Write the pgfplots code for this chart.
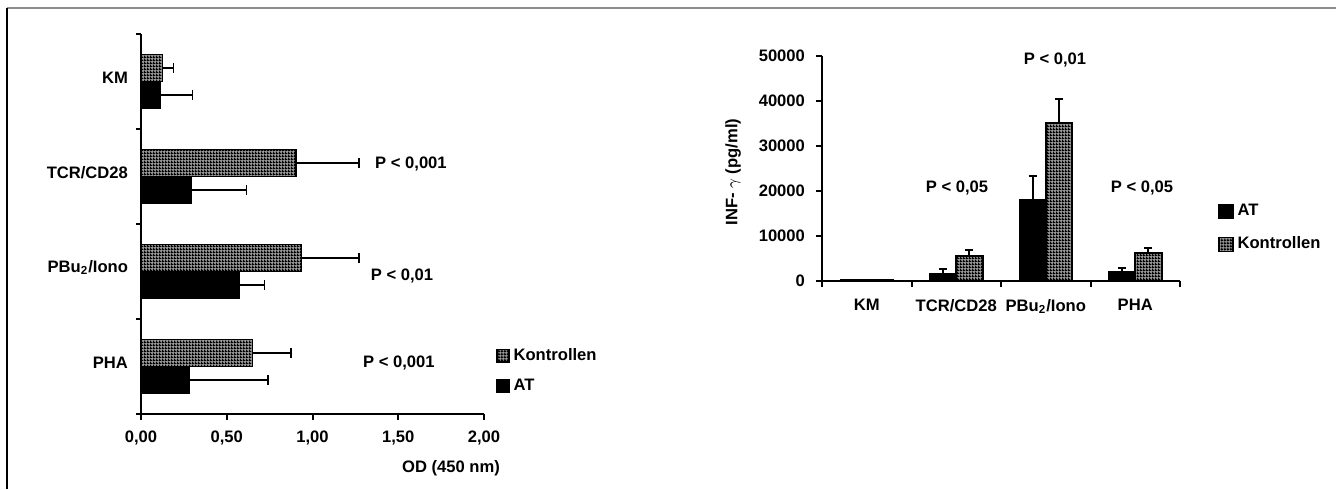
\documentclass[border=0pt]{standalone}
\usepackage{fontspec}
\setmainfont{Liberation Sans}
\usepackage{pgfplots}
\pgfplotsset{compat=1.18}
\usetikzlibrary{patterns.meta}
\tikzdeclarepattern{name=checker, type=uncolored,
  bounding box={(0,0) and (1.5pt,1.5pt)}, tile size={(1.5pt,1.5pt)},
  code={\fill (0,0) rectangle (1.5pt,0.8pt); \fill (0,0.8pt) rectangle (0.8pt,1.5pt);}}
\newcommand\ff{\bfseries\fontsize{8.3}{10}\selectfont}
\pgfplotsset{
  konbar/.style={draw=black, line width=0.8pt, fill=black!40, postaction={pattern=checker, pattern color=black}},
  atbar/.style={draw=black, line width=0.8pt, fill=black},
  xerr/.style={forget plot, draw=none, mark=none,
    error bars/.cd, x dir=plus, x explicit, error mark=|,
    error bar style={draw=black, line width=0.9pt, solid},
    error mark options={draw=black, line width=0.9pt, mark size=2.6pt, solid}},
  yerr/.style={forget plot, draw=none, mark=none,
    error bars/.cd, y dir=plus, y explicit, error mark=|,
    error bar style={draw=black, line width=1pt, solid},
    error mark options={draw=black, line width=1pt, mark size=2pt, solid}},
}
\begin{document}
\begin{tikzpicture}
\useasboundingbox (0,0) rectangle (668pt,244.5pt);
\draw[black!45, line width=0.8pt] (3.5pt,240.5pt) -- (668pt,240.5pt);
\draw[black, line width=0.8pt] (3.5pt,240.5pt) -- (3.5pt,0pt);
% ---------------- left chart
\begin{axis}[
  at={(70.5pt,37.5pt)}, anchor=south west, scale only axis,
  width=171.5pt, height=190pt, clip=false,
  xmin=0, xmax=2, ymin=0, ymax=4,
  axis lines=left, axis line style={-, line width=1pt},
  tick style={line width=1pt, black},
  tick align=outside, major tick length=3pt, minor tick length=2.5pt,
  xtick={0,0.5,1,1.5,2}, xticklabels={{0,00},{0,50},{1,00},{1,50},{2,00}},
  ytick={0.5,1.5,2.5,3.5}, yticklabels={PHA,PBu\textsubscript{2}/Iono,TCR/CD28,KM},
  minor ytick={0,1,2,3,4}, major y tick style={draw=none},
  tick label style={font=\ff},
  yticklabel style={yshift=2pt, xshift=0pt},
  xticklabel style={yshift=-2pt},
  legend style={at={(rel axis cs:1.035,0.185)}, anchor=north west, draw=none, fill=none,
     font=\ff, row sep=4pt, inner sep=0pt, legend cell align=left},
  legend image code/.code={\draw[#1, line width=0.6pt] (0pt,-3.2pt) rectangle (6pt,3.2pt);},
]
\addplot[konbar, xbar, bar width=13.5pt, bar shift=6.75pt]
  coordinates {(0.125,3.5) (0.905,2.5) (0.935,1.5) (0.65,0.5)};
\addlegendentry{Kontrollen}
\addplot[atbar, xbar, bar width=13.5pt, bar shift=-6.75pt]
  coordinates {(0.11,3.5) (0.295,2.5) (0.575,1.5) (0.28,0.5)};
\addlegendentry{AT}
% error bars (Kontrollen at +0.142, AT at -0.142 from category centre)
\addplot[xerr] coordinates {(0.125,3.642) +- (0.065,0) (0.905,2.642) +- (0.365,0) (0.935,1.642) +- (0.335,0) (0.65,0.642) +- (0.225,0)};
\addplot[xerr] coordinates {(0.11,3.358) +- (0.19,0) (0.295,2.358) +- (0.32,0) (0.575,1.358) +- (0.145,0) (0.28,0.358) +- (0.46,0)};
\node[font=\ff] at (axis cs:1.574,2.63) {P < 0,001};
\node[font=\ff] at (axis cs:1.522,1.453) {P < 0,01};
\node[font=\ff] at (axis cs:1.504,0.537) {P < 0,001};
\end{axis}
\node[font=\ff] at (225.5pt,10.5pt) {OD (450 nm)};
% ---------------- right chart
\begin{axis}[
  at={(411pt,104pt)}, anchor=south west, scale only axis,
  width=179pt, height=112.5pt, clip=false,
  xmin=0, xmax=4, ymin=0, ymax=50000, scaled y ticks=false,
  axis lines=left, axis line style={-, line width=1pt},
  tick style={line width=1pt, black},
  tick align=outside, major tick length=3pt, minor tick length=3pt,
  xtick={0.5,1.5,2.5,3.5}, xticklabels={KM,TCR/CD28,PBu\textsubscript{2}/Iono,PHA},
  minor xtick={0,1,2,3,4}, major x tick style={draw=none},
  ytick={0,10000,20000,30000,40000,50000}, yticklabels={0,10000,20000,30000,40000,50000},
  tick label style={font=\ff},
  xticklabel style={yshift=-2.5pt},
  yticklabel style={xshift=-2pt},
  legend style={at={(rel axis cs:1.106,0.36)}, anchor=north west, draw=none, fill=none,
     font=\ff, row sep=5pt, inner sep=0pt, legend cell align=left},
  legend image code/.code={\draw[#1, line width=0.6pt] (0pt,-3.5pt) rectangle (7pt,3.5pt);},
]
\addplot[atbar, ybar, bar width=13.25pt, bar shift=-6.6pt]
  coordinates {(0.5,250) (1.5,1700) (2.5,18000) (3.5,2000)};
\addlegendentry{AT}
\addplot[konbar, ybar, bar width=13.25pt, bar shift=6.6pt]
  coordinates {(0.5,250) (1.5,5600) (2.5,35100) (3.5,6200)};
\addlegendentry{Kontrollen}
% error bars (AT at -0.1475, Kontrollen at +0.1475 from category centre)
\addplot[yerr] coordinates {(1.3525,1700) +- (0,1000) (2.3525,18000) +- (0,5300) (3.3525,2000) +- (0,1000)};
\addplot[yerr] coordinates {(1.6475,5600) +- (0,1200) (2.6475,35100) +- (0,5400) (3.6475,6200) +- (0,1200)};
\node[font=\ff] at (axis cs:1.508,20740) {P < 0,05};
\node[font=\ff] at (axis cs:2.603,49100) {P < 0,01};
\node[font=\ff] at (axis cs:3.575,20740) {P < 0,05};
\end{axis}
\node[font=\ff, rotate=90] at (366.5pt,158.5pt) {INF- $\gamma$ (pg/ml)};
\end{tikzpicture}
\end{document}
